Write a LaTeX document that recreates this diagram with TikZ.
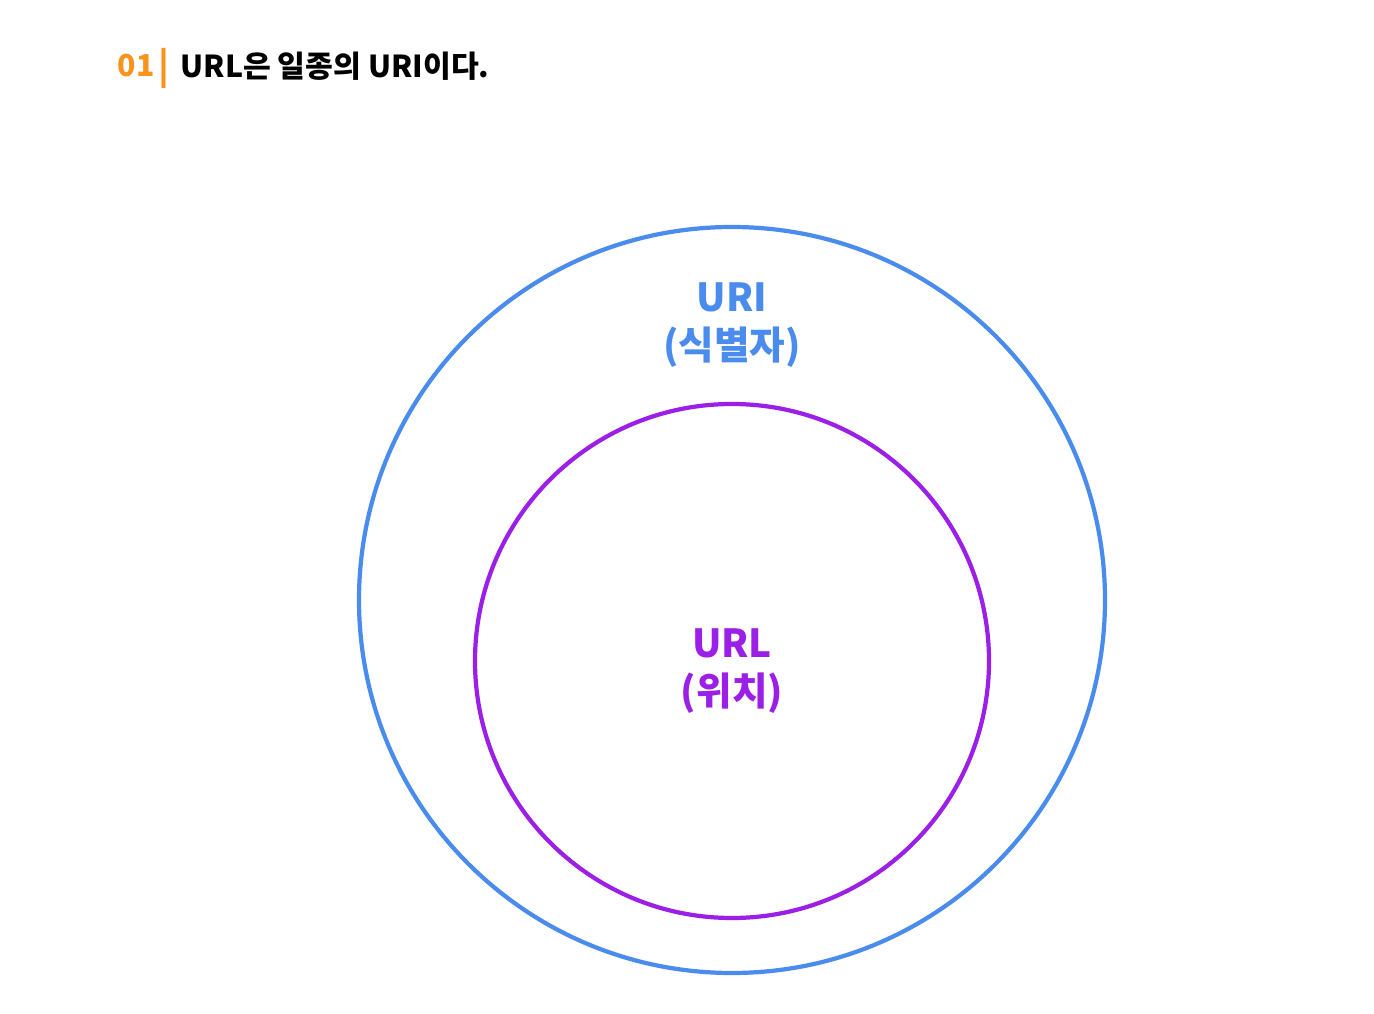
\documentclass[tikz,border=0pt]{standalone}
\usepackage{fontspec}
\setmainfont{Noto Sans CJK KR}
\usepackage{xcolor}
\definecolor{uriblue}{HTML}{4A8CEE}
\definecolor{urlpurple}{HTML}{9B1FE6}
\definecolor{numorange}{HTML}{F7941D}

\begin{document}
\begin{tikzpicture}[scale=1]
            \useasboundingbox (0,0) rectangle (13.74,-10.14);
            \node (outer) at (7.32,-6.00) [circle,draw,line width=1.2pt,color=uriblue,minimum size=7.46cm,inner sep=0pt] {};
            \node (inner) at (7.32,-6.61) [circle,draw,line width=1.2pt,color=urlpurple,minimum size=5.14cm,inner sep=0pt] {};

            \node (num) at (1.17,-0.66) [anchor=west,inner sep=0pt,color=numorange,font=\bfseries\fontsize{8.6}{10}\selectfont] {01};
            \node (bar) at (1.64,-0.68) [inner sep=0pt,color=numorange,font=\bfseries\fontsize{10}{12}\selectfont] {|};
            \node (title) at (1.80,-0.66) [anchor=west,inner sep=0pt,font=\bfseries\fontsize{8.6}{10}\selectfont] {URL은 일종의 URI이다.};

            \node (urilabel) at (7.32,-3.25) [align=center,color=uriblue,font=\bfseries\fontsize{11}{13.6}\selectfont] {URI\\(식별자)};
            \node (urllabel) at (7.32,-6.71) [align=center,color=urlpurple,font=\bfseries\fontsize{11}{13.6}\selectfont] {URL\\(위치)};

        \end{tikzpicture}
\end{document}
